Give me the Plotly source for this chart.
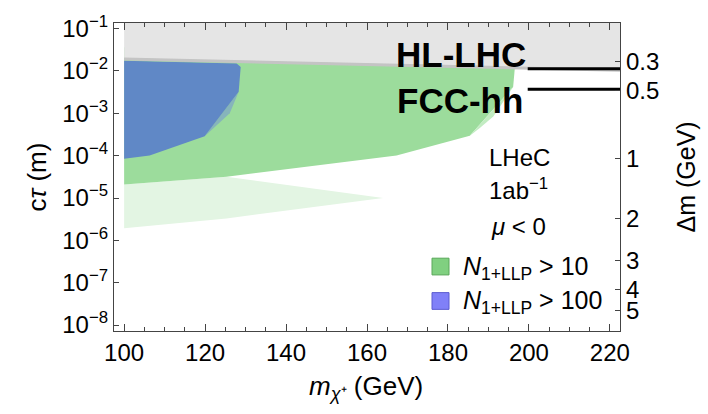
import plotly.graph_objects as go

# ---------------- data ----------------
# x = chargino mass m_chi+ (GeV), y = log10(c tau / m)
green_x = [100, 196.5, 196.1, 185.4, 167.3, 125.3, 100]
green_logy = [-1.44, -1.95, -2.379, -3.528, -3.993, -4.495, -4.681]

light_green_x = [100, 125.3, 164.0, 125.3, 100]
light_green_logy = [-4.681, -4.495, -5.0, -5.481, -5.714]

light_green_edge_x = [196.1, 191.2, 187.8, 185.4]
light_green_edge_logy = [-2.379, -3.077, -3.35, -3.528]

blue_x = [100, 127.8, 128.8, 128.3, 119.9, 106.3, 100]
blue_logy = [-1.76, -1.821, -1.907, -2.488, -3.542, -3.993, -4.07]

blue_edge_x = [128.3, 126.1, 119.9]
blue_edge_logy = [-2.488, -3.0, -3.542]

gray_x = [100, 222.5, 222.5, 100]
gray_logy = [-0.80, -0.80, -1.96, -1.70]

hl_lhc_x = [199.7, 222.5]
hl_lhc_logy = [-1.95, -1.95]
fcc_x = [199.7, 222.5]
fcc_logy = [-2.43, -2.43]

left_tick_exp = [-1, -2, -3, -4, -5, -6, -7, -8]
right_tick_logy = [-1.775, -2.47, -4.07, -5.48, -6.47, -7.17, -7.65]
right_tick_text = ["0.3", "0.5", "1", "2", "3", "4", "5"]
x_ticks = [100, 120, 140, 160, 180, 200, 220]

x_range = [97.5, 222.5]
logy_range = [-8.14, -0.867]

FONT = "Liberation Sans, Arial, sans-serif"
AX = "#444444"
TICK = 24


def pw(v):
    return [10 ** a for a in v]


fig = go.Figure()


def poly(xs, ly, color):
    fig.add_trace(go.Scatter(x=xs, y=pw(ly), fill="toself", fillcolor=color,
                             mode="lines", line=dict(width=0, color=color),
                             hoverinfo="skip", showlegend=False))


poly(light_green_x, light_green_logy, "#e3f5e3")
poly(green_x, green_logy, "#9cdc9c")
poly(light_green_edge_x, light_green_edge_logy, "#c2ecc2")
poly(blue_edge_x, blue_edge_logy, "#86b4bb")
poly(blue_x, blue_logy, "#6088c6")
poly(gray_x, gray_logy, "#e5e5e5")

# darker edge at the bottom of the gray region
fig.add_trace(go.Scatter(x=[gray_x[3], gray_x[2]], y=pw([gray_logy[3] - 0.02, gray_logy[2] - 0.02]),
                         mode="lines", line=dict(color="#c4c4c4", width=3),
                         hoverinfo="skip", showlegend=False))

for xs, ly in [(hl_lhc_x, hl_lhc_logy), (fcc_x, fcc_logy)]:
    fig.add_trace(go.Scatter(x=xs, y=pw(ly), mode="lines",
                             line=dict(color="black", width=3),
                             hoverinfo="skip", showlegend=False))

# invisible trace for the right axis
fig.add_trace(go.Scatter(x=[150], y=[1e-4], yaxis="y2", mode="markers",
                         marker=dict(opacity=0), hoverinfo="skip", showlegend=False))

L, R, T, B = 114, 88, 18, 83
W, H = 708, 414
pwid = W - L - R
phei = H - T - B


def fx(px):
    return (px - L) / pwid


def fy(py):
    return (H - B - py) / phei


fig.update_layout(
    width=W, height=H,
    margin=dict(l=L, r=R, t=T, b=B),
    paper_bgcolor="white", plot_bgcolor="white",
    font=dict(family=FONT, size=TICK, color="black"),
    xaxis=dict(range=x_range, tickvals=x_ticks, ticks="inside", ticklen=7,
               tickcolor=AX, tickwidth=1, showline=True, linecolor=AX,
               linewidth=1.3, mirror="ticks", showgrid=False, zeroline=False,
               tickfont=dict(size=TICK),
               minor=dict(dtick=5, tick0=100, ticks="inside", ticklen=4,
                          tickcolor=AX, showgrid=False)),
    yaxis=dict(type="log", range=logy_range,
               tickvals=[10 ** e for e in left_tick_exp],
               ticktext=["10<sup>\u2212%d</sup>" % (-e) for e in left_tick_exp],
               ticks="inside", ticklen=5, tickcolor=AX, showline=True,
               linecolor=AX, linewidth=1.3, showgrid=False, zeroline=False,
               tickfont=dict(size=TICK)),
    yaxis2=dict(type="log", range=logy_range, overlaying="y", side="right",
                tickvals=pw(right_tick_logy), ticktext=right_tick_text,
                ticks="inside", ticklen=5, tickcolor=AX, showline=True,
                linecolor=AX, linewidth=1.3, showgrid=False, zeroline=False,
                tickfont=dict(size=TICK)),
)

ann = []
ann.append(dict(text="c<i>\u03c4</i> (m)", x=fx(37), y=fy(175), textangle=-90, font=dict(size=26)))
ann.append(dict(text="\u0394m (GeV)", x=fx(686), y=fy(175), textangle=-90, font=dict(size=25)))
ann.append(dict(text="<i>m</i><sub><i>\u03c7</i>\u207a</sub> (GeV)", x=fx(366), y=fy(388), font=dict(size=26)))
ann.append(dict(text="<b>HL-LHC</b>", x=fx(394), y=fy(50), xanchor="left", font=dict(size=35)))
ann.append(dict(text="<b>FCC-hh</b>", x=fx(395), y=fy(97), xanchor="left", font=dict(size=35)))
ann.append(dict(text="LHeC", x=fx(519), y=fy(155)))
ann.append(dict(text="1ab<sup>\u22121</sup>", x=fx(518), y=fy(187)))
ann.append(dict(text="<i>\u03bc</i> < 0", x=fx(518), y=fy(225)))
ann.append(dict(text="<i>N</i><sub>1+LLP</sub> > 10", x=fx(461), y=fy(267), xanchor="left", font=dict(size=25)))
ann.append(dict(text="<i>N</i><sub>1+LLP</sub> > 100", x=fx(461), y=fy(302), xanchor="left", font=dict(size=25)))
for a in ann:
    a.setdefault("xanchor", "center")
    a.update(xref="paper", yref="paper", yanchor="middle", showarrow=False)
    a.setdefault("font", dict(size=TICK))
fig.update_layout(annotations=ann)

shapes = [
    dict(type="rect", xref="paper", yref="paper", x0=fx(432), x1=fx(449),
         y0=fy(274), y1=fy(257), fillcolor="#80d080", line=dict(color="#5aa85a", width=1)),
    dict(type="rect", xref="paper", yref="paper", x0=fx(432), x1=fx(449),
         y0=fy(309), y1=fy(292), fillcolor="#8080f8", line=dict(color="#5a5ad0", width=1)),
]
fig.update_layout(shapes=shapes)

fig.write_html("out.html")
